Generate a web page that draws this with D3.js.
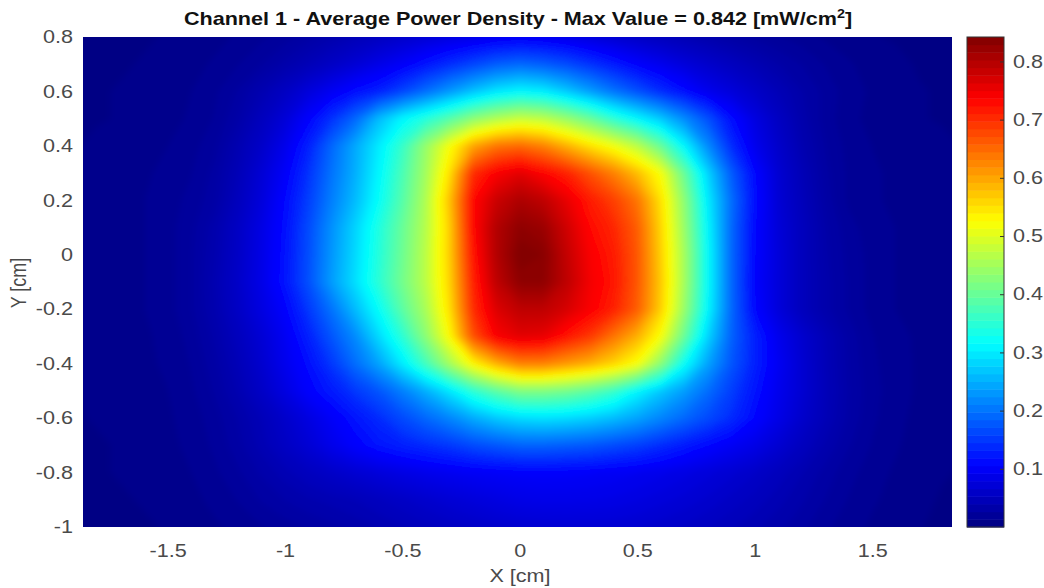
<!DOCTYPE html>
<html>
<head>
<meta charset="utf-8">
<script src="https://cdn.jsdelivr.net/npm/d3@7"></script>
<style>
  body { margin: 0; background: #fff; }
  text { font-family: "Liberation Sans", Arial, Helvetica, sans-serif; }
</style>
</head>
<body>
<div id="chart"></div>
<script>
// grid positions [cm]
var xValues = [-1.9,-1.8,-1.7,-1.6,-1.5,-1.4,-1.3,-1.2,-1.1,-1.0,-0.9,-0.8,-0.7,-0.6,-0.5,-0.4,-0.3,-0.2,-0.1,0,
               0.1,0.2,0.3,0.4,0.5,0.6,0.7,0.8,0.9,1.0,1.1,1.2,1.3,1.4,1.5,1.6,1.7,1.8,1.9];
var yValues = [0.8,0.7,0.6,0.5,0.4,0.3,0.2,0.1,0,-0.1,-0.2,-0.3,-0.4,-0.5,-0.6,-0.7,-0.8,-0.9,-1.0];

// average power density [mW/cm2], one row per yValue (top to bottom)
var power = [
  [.003,.004,.005,.006,.007,.009,.011,.014,.018,.023,.030,.037,.045,.053,.062,.070,.078,.085,.092,.095,.092,.085,.075,.066,.058,.050,.043,.036,.030,.025,.020,.016,.012,.009,.007,.006,.005,.004,.003],
  [.004,.005,.006,.007,.009,.011,.014,.019,.026,.035,.045,.057,.070,.085,.100,.120,.140,.160,.180,.190,.180,.165,.145,.125,.105,.090,.075,.063,.052,.042,.033,.026,.019,.014,.010,.008,.006,.005,.004],
  [.005,.006,.007,.008,.010,.013,.018,.027,.040,.055,.075,.095,.115,.130,.160,.195,.230,.265,.295,.310,.300,.270,.235,.200,.170,.140,.115,.090,.075,.060,.045,.033,.024,.016,.012,.009,.007,.006,.005],
  [.005,.006,.007,.009,.011,.014,.020,.032,.050,.072,.105,.145,.190,.260,.310,.345,.385,.430,.460,.480,.470,.440,.400,.350,.310,.270,.220,.170,.115,.080,.055,.036,.023,.015,.011,.009,.007,.006,.005],
  [.006,.008,.009,.011,.013,.017,.024,.040,.060,.088,.130,.190,.245,.300,.360,.440,.520,.600,.640,.650,.630,.590,.550,.515,.470,.400,.310,.220,.140,.090,.062,.040,.026,.017,.013,.011,.009,.008,.006],
  [.007,.009,.010,.012,.015,.019,.028,.045,.070,.100,.145,.200,.250,.310,.375,.450,.550,.700,.740,.760,.735,.710,.670,.630,.580,.520,.400,.280,.180,.110,.068,.045,.028,.018,.014,.012,.010,.009,.007],
  [.008,.010,.011,.013,.016,.022,.030,.050,.075,.110,.155,.210,.260,.320,.385,.460,.575,.730,.780,.805,.790,.755,.715,.685,.640,.550,.430,.300,.195,.115,.070,.048,.030,.018,.014,.012,.011,.010,.008],
  [.008,.010,.011,.013,.017,.024,.036,.056,.082,.115,.165,.225,.280,.340,.400,.465,.565,.730,.800,.830,.820,.775,.730,.705,.660,.560,.440,.310,.190,.110,.073,.050,.033,.022,.016,.013,.011,.010,.008],
  [.008,.010,.011,.013,.017,.025,.038,.058,.084,.118,.168,.230,.285,.345,.405,.470,.565,.720,.800,.842,.835,.785,.740,.715,.665,.565,.450,.316,.190,.108,.075,.050,.034,.024,.017,.013,.011,.010,.008],
  [.008,.010,.011,.013,.017,.025,.040,.060,.085,.120,.170,.235,.290,.350,.410,.470,.560,.710,.790,.830,.830,.790,.745,.720,.665,.570,.450,.316,.190,.105,.075,.050,.035,.025,.017,.013,.011,.010,.008],
  [.008,.010,.011,.013,.017,.025,.038,.057,.080,.105,.150,.200,.260,.320,.390,.455,.550,.700,.765,.790,.790,.770,.740,.710,.660,.565,.440,.310,.190,.110,.075,.050,.035,.025,.017,.013,.011,.010,.008],
  [.007,.009,.010,.012,.015,.022,.034,.050,.070,.095,.130,.175,.220,.285,.350,.430,.525,.670,.740,.760,.755,.720,.690,.640,.590,.520,.400,.280,.185,.130,.090,.065,.045,.030,.020,.015,.012,.010,.008],
  [.007,.009,.010,.012,.014,.020,.030,.045,.065,.090,.115,.150,.195,.240,.300,.370,.450,.530,.590,.630,.630,.610,.590,.560,.520,.430,.320,.240,.175,.130,.095,.068,.046,.031,.021,.016,.012,.010,.008],
  [.006,.008,.009,.011,.013,.018,.027,.040,.058,.080,.105,.125,.150,.175,.210,.250,.295,.350,.390,.420,.420,.410,.390,.360,.310,.270,.235,.195,.155,.120,.090,.068,.047,.032,.022,.016,.012,.010,.008],
  [.006,.007,.008,.010,.012,.016,.023,.033,.046,.062,.080,.100,.120,.140,.165,.190,.215,.245,.270,.285,.290,.285,.275,.260,.240,.215,.190,.165,.140,.110,.085,.063,.045,.031,.021,.015,.011,.009,.007],
  [.005,.006,.007,.009,.011,.015,.021,.030,.042,.056,.070,.088,.105,.120,.130,.140,.150,.165,.175,.185,.185,.180,.175,.165,.155,.140,.125,.110,.097,.085,.068,.052,.038,.027,.019,.014,.010,.008,.006],
  [.005,.006,.007,.008,.010,.013,.018,.025,.034,.043,.052,.060,.068,.075,.082,.088,.093,.097,.100,.102,.103,.102,.100,.097,.093,.088,.082,.075,.068,.060,.050,.040,.030,.022,.016,.012,.009,.007,.006],
  [.004,.005,.006,.007,.009,.011,.015,.020,.027,.033,.038,.042,.046,.052,.058,.064,.070,.075,.080,.085,.087,.087,.086,.084,.080,.075,.070,.064,.057,.050,.042,.034,.026,.019,.014,.011,.008,.006,.005],
  [.004,.004,.005,.006,.007,.009,.012,.015,.019,.023,.027,.031,.035,.040,.045,.050,.055,.059,.063,.066,.068,.069,.069,.068,.066,.062,.058,.053,.047,.041,.035,.028,.021,.016,.012,.009,.007,.005,.004]
];

var maxValue = 0.842;
var xTicks = [-1.5, -1, -0.5, 0, 0.5, 1, 1.5];
var yTicks = [0.8, 0.6, 0.4, 0.2, 0, -0.2, -0.4, -0.6, -0.8, -1];
var colorTicks = [0.1, 0.2, 0.3, 0.4, 0.5, 0.6, 0.7, 0.8];

var width = 1044, height = 588;
var margin = {top: 37, right: 92, bottom: 61, left: 83};
var plotW = width - margin.left - margin.right;   // 869
var plotH = height - margin.top - margin.bottom;  // 490

var svg = d3.select("#chart")
  .append("svg")
    .attr("width", width)
    .attr("height", height);

var x = d3.scaleLinear().domain([-1.86, 1.84]).range([margin.left, margin.left + plotW]);
var y = d3.scaleLinear().domain([-1, 0.8]).range([margin.top + plotH, margin.top]);

// matlab "jet"
var jet = d3.scaleLinear()
  .domain([0, 0.125, 0.375, 0.625, 0.875, 1].map(function(t) { return t * maxValue; }))
  .range(["#000080", "#0000ff", "#00ffff", "#ffff00", "#ff0000", "#800000"])
  .clamp(true);

// filled contours of the grid
var nx = xValues.length, ny = yValues.length;
var step = maxValue / 128;
var thresholds = d3.range(0, maxValue, step);
var bands = d3.contours()
  .size([nx, ny])
  .thresholds(thresholds)(power.flat());

// grid cell centres sit at i + 0.5 in contour space
var gx = d3.scaleLinear().domain([0.5, nx - 0.5]).range([x(xValues[0]), x(xValues[nx - 1])]);
var gy = d3.scaleLinear().domain([0.5, ny - 0.5]).range([y(yValues[0]), y(yValues[ny - 1])]);
var path = d3.geoPath(d3.geoTransform({
  point: function(px, py) { this.stream.point(gx(px), gy(py)); }
}));

var defs = svg.append("defs");
defs.append("clipPath").attr("id", "plotClip")
  .append("rect")
    .attr("x", margin.left).attr("y", margin.top)
    .attr("width", plotW).attr("height", plotH);
// soften the facets of the linear contours (shading interp look)
defs.append("filter").attr("id", "soft")
    .attr("x", "-5%").attr("y", "-5%").attr("width", "110%").attr("height", "110%")
  .append("feGaussianBlur").attr("stdDeviation", 3);

svg.append("g")
    .attr("clip-path", "url(#plotClip)")
  .append("g")
    .attr("filter", "url(#soft)")
  .selectAll("path")
  .data(bands)
  .join("path")
    .attr("d", path)
    .attr("fill", function(d) { return jet(d.value + step / 2); })
    .attr("stroke", function(d) { return jet(d.value + step / 2); })
    .attr("stroke-width", 0.5);

var labelColor = "#4a4a4a";

// X axis
var xAxis = svg.append("g")
  .attr("transform", "translate(0," + (margin.top + plotH) + ")")
  .call(d3.axisBottom(x).tickValues(xTicks).tickSize(0).tickPadding(17).tickFormat(function(d) { return String(d); }));
xAxis.select(".domain").remove();
xAxis.selectAll("text")
  .attr("fill", labelColor)
  .style("font-size", "18px")
  .attr("transform", "scale(1.2,1)");

// Y axis
var yAxis = svg.append("g")
  .attr("transform", "translate(" + margin.left + ",0)")
  .call(d3.axisLeft(y).tickValues(yTicks).tickSize(0).tickFormat(function(d) { return String(d); }));
yAxis.select(".domain").remove();
yAxis.selectAll("text")
  .attr("x", 0)
  .attr("fill", labelColor)
  .style("font-size", "18px")
  .attr("transform", "translate(-10,0) scale(1.2,1)");

// colorbar
var cb = {x: 967, w: 37};
var c = d3.scaleLinear().domain([0, maxValue]).range([margin.top + plotH, margin.top]);
var cbLevels = d3.range(0, maxValue, maxValue / 64);
svg.append("g")
  .selectAll("rect")
  .data(cbLevels)
  .join("rect")
    .attr("x", cb.x)
    .attr("y", function(d) { return c(d + maxValue / 64); })
    .attr("width", cb.w)
    .attr("height", function(d) { return c(d) - c(d + maxValue / 64) + 0.5; })
    .attr("fill", function(d) { return jet(d + maxValue / 128); });

svg.append("rect")
  .attr("x", cb.x).attr("y", margin.top)
  .attr("width", cb.w).attr("height", plotH)
  .attr("fill", "none")
  .attr("stroke", "#333")
  .attr("stroke-width", 1);

var cAxis = svg.append("g")
  .attr("transform", "translate(" + (cb.x + cb.w) + ",0)")
  .call(d3.axisRight(c).tickValues(colorTicks).tickSize(-4).tickFormat(function(d) { return String(d); }));
cAxis.select(".domain").remove();
cAxis.selectAll("line").attr("stroke", "#333");
cAxis.selectAll("text")
  .attr("x", 0)
  .attr("fill", labelColor)
  .style("font-size", "18px")
  .attr("transform", "translate(9,0) scale(1.2,1)");

// title
var title = svg.append("text")
  .attr("transform", "translate(518,25) scale(1.2,1)")
  .attr("text-anchor", "middle")
  .style("font-size", "18px")
  .style("font-weight", "bold")
  .attr("fill", "#111");
title.append("tspan").text("Channel 1 - Average Power Density - Max Value = 0.842 [mW/cm");
title.append("tspan").attr("dy", -7).style("font-size", "12px").text("2");
title.append("tspan").attr("dy", 7).text("]");

// axis labels
svg.append("text")
  .attr("transform", "translate(520,582) scale(1.2,1)")
  .attr("text-anchor", "middle")
  .attr("fill", labelColor)
  .style("font-size", "18px")
  .text("X [cm]");

svg.append("text")
  .attr("transform", "translate(26,283) rotate(-90) scale(1,1.2)")
  .attr("text-anchor", "middle")
  .attr("fill", labelColor)
  .style("font-size", "18px")
  .text("Y [cm]");
</script>
</body>
</html>
